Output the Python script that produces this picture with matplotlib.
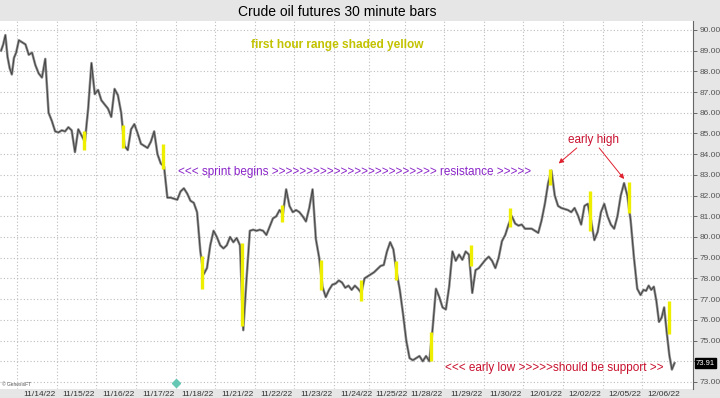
import numpy as np
import matplotlib.pyplot as plt

plt.rcParams['font.family'] = ['Liberation Sans', 'DejaVu Sans']

# trading days shown (first one is the tail of 11/11)
DAY_LABELS = ['11/11/22', '11/14/22', '11/15/22', '11/16/22', '11/17/22', '11/18/22',
              '11/21/22', '11/22/22', '11/23/22', '11/24/22', '11/25/22', '11/28/22',
              '11/29/22', '11/30/22', '12/01/22', '12/02/22', '12/05/22', '12/06/22']
# 30 minute bars per session, and bars actually traded on screen
SESSION_BARS = [20, 46, 46, 46, 46, 46, 46, 46, 46, 41, 41, 46, 46, 46, 46, 46, 46, 46]
TRADED_BARS = [20, 46, 46, 46, 46, 46, 46, 46, 46, 41, 41, 46, 46, 46, 46, 46, 46, 39]
FIRST_HOUR_BAR = 30  # 9:00 ET, counted from the 18:00 open

# price path, sampled evenly through each session
P_1111 = [89.0, 89.3, 89.75, 88.7, 88.15, 87.85, 88.65, 88.9]
P_1114 = [89.5, 89.4, 89.3, 88.8, 88.9, 88.3, 87.9, 87.7, 88.6, 86.0, 85.6, 85.1]
P_1115 = [85.05, 85.15, 85.1, 85.3, 85.15, 84.1, 85.2, 84.9, 84.6, 86.2, 88.4, 86.9]
P_1116 = [87.1, 86.6, 86.4, 86.2, 85.8, 87.15, 86.85, 86.0, 84.4, 84.2, 85.2, 85.45]
P_1117 = [85.0, 84.5, 84.4, 84.3, 84.6, 85.1, 84.0, 83.55, 83.4, 81.9, 81.9, 81.85]
P_1118 = [81.8, 82.2, 82.35, 82.1, 81.75, 81.65, 81.2, 79.3, 78.2, 78.5, 79.6, 80.3]
P_1121 = [80.0, 79.6, 79.45, 79.6, 80.0, 79.75, 79.95, 79.6, 75.5, 78.0, 80.3, 80.35]
P_1122 = [80.3, 80.35, 80.3, 80.1, 80.5, 80.9, 81.0, 81.3, 81.1, 82.3, 81.5, 81.2]
P_1123 = [81.3, 81.2, 81.0, 80.75, 81.4, 82.3, 79.9, 79.0, 77.6, 77.1, 77.45, 77.7]
P_1124 = [77.75, 77.9, 77.8, 77.55, 77.65, 77.45, 77.65, 77.5, 77.3, 78.0, 78.1]
P_1125 = [78.2, 78.3, 78.45, 78.6, 78.65, 79.3, 79.75, 79.4, 78.3, 77.45, 76.3]
P_1128 = [75.0, 74.15, 74.05, 74.15, 74.25, 74.0, 74.25, 74.0, 75.6, 77.5, 77.1, 76.6]
P_1129 = [76.5, 77.6, 79.3, 78.85, 79.15, 78.9, 79.3, 79.15, 77.3, 78.4, 78.5, 78.7]
P_1130 = [78.9, 79.05, 78.85, 78.5, 79.0, 79.8, 80.1, 80.6, 81.0, 80.65, 80.55, 80.6]
P_1201 = [80.4, 80.4, 80.4, 80.3, 80.2, 80.8, 81.6, 82.6, 83.2, 82.0, 81.5, 81.4]
P_1202 = [81.35, 81.3, 81.2, 81.4, 81.05, 80.6, 81.5, 81.6, 80.8, 79.85, 80.25, 81.2]
P_1205 = [81.6, 81.0, 80.6, 80.4, 81.0, 82.0, 82.6, 82.0, 80.8, 79.0, 77.5, 77.2]
P_1206 = [77.45, 77.4, 77.65, 77.45, 77.6, 76.9, 75.9, 76.1, 76.6, 75.4, 74.3, 73.6, 73.91]
DAY_PRICES = [P_1111, P_1114, P_1115, P_1116, P_1117, P_1118, P_1121, P_1122, P_1123,
              P_1124, P_1125, P_1128, P_1129, P_1130, P_1201, P_1202, P_1205, P_1206]

# first hour (9:00-10:00) range per day
FH_HIGH = [np.nan, np.nan, 85.1, 85.4, 84.5, 79.1, 79.7, 81.55, 78.9, 77.9, 78.85,
           75.4, 79.6, 81.4, 83.3, 82.2, 82.65, 76.9]
FH_LOW = [np.nan, np.nan, 84.2, 84.3, 83.3, 77.5, 75.7, 80.7, 77.45, 76.9, 77.9,
          74.0, 78.6, 80.5, 82.5, 80.3, 81.15, 75.3]

LAST_PRICE = 73.91
Y_TICKS = np.arange(73, 91)

day_start = np.concatenate([[0], np.cumsum(SESSION_BARS)[:-1]])
xs, ys = [], []
for start, traded, prices in zip(day_start, TRADED_BARS, DAY_PRICES):
    n = len(prices)
    xs.extend(start + (np.arange(n) + 0.5) * traded / n)
    ys.extend(prices)
fh_x = day_start + FIRST_HOUR_BAR + 1

fig = plt.figure(figsize=(7.2, 3.98), dpi=100, facecolor='#e6e6e6')
ax = fig.add_axes([0.0, 9 / 398, 693 / 720, 368 / 398])
ax.set_facecolor('white')

ax.plot(xs, ys, color='#8c8c8c', lw=1.8, zorder=2)
ax.plot(xs, ys, color='#3c3c3c', lw=0.6, zorder=3)
ax.vlines(fh_x, FH_LOW, FH_HIGH, color='#eeee00', lw=2.4, zorder=4)

y0, y1 = 72.66, 90.43
ax.set_xlim(0, 805)
ax.set_ylim(y0, y1)

# grid: day boundaries and whole dollars
ax.set_xticks(day_start[1:])
ax.set_xticklabels([])
ax.set_xticks(day_start[1:] + 25.5, minor=True)
ax.set_xticklabels(DAY_LABELS[1:], minor=True, fontsize=6, color='#333333')
ax.tick_params(axis='x', which='both', length=0, pad=1.5)
ax.set_yticks(Y_TICKS)
ax.yaxis.tick_right()
# the last-price tag sits over the 74.00 label
ax.set_yticklabels(['' if abs(v - LAST_PRICE) < 0.5 else '%.2f' % v for v in Y_TICKS],
                   fontsize=6, color='#333333')
ax.tick_params(axis='y', length=3, width=0.6, pad=2, colors='#555555')
ax.grid(True, which='major', color='#bdbdbd', ls=(0, (1, 2)), lw=0.8)
for side in ['top', 'left', 'bottom']:
    ax.spines[side].set_visible(False)
ax.spines['right'].set_color('#666666')
ax.spines['right'].set_linewidth(0.8)

# last price tag
ax.text(1.004, (LAST_PRICE - y0) / (y1 - y0), '%.2f' % LAST_PRICE,
        transform=ax.transAxes, fontsize=5.5, color='white', va='center', ha='left',
        bbox=dict(boxstyle='square,pad=0.15', facecolor='black', edgecolor='black'))

fig.text(337 / 720, 1 - 12 / 398, 'Crude oil futures 30 minute bars', ha='center',
         va='center', fontsize=10, color='black')
fig.text(337 / 720, 1 - 45 / 398, 'first hour range shaded yellow', ha='center',
         va='center', fontsize=8.6, fontweight='bold', color='#c2c200')
fig.text(355 / 720, 1 - 172 / 398,
         '<<< sprint begins ' + '>' * 24 + ' resistance >>>>>', ha='center',
         va='center', fontsize=8.5, color='#8a24c8')
fig.text(554 / 720, 1 - 368 / 398, '<<< early low >>>>>should be support >>',
         ha='center', va='center', fontsize=8.5, color='#c8102e')

ax.text(689, 84.69, 'early high', ha='center', va='center', fontsize=8.5,
        color='#c8102e')
arrow = dict(arrowstyle='-|>', color='#e0202e', lw=0.7, mutation_scale=7,
             shrinkA=0, shrinkB=0)
ax.annotate('', xy=(fh_x[14] + 10, 83.55), xytext=(670, 84.3), arrowprops=arrow)
ax.annotate('', xy=(fh_x[16] - 6, 82.8), xytext=(696, 84.3), arrowprops=arrow)

fig.text(2 / 720, 1 - 384 / 398, '\u00a9 GenesisFT', fontsize=3.5, color='#555555',
         va='center')
ax.plot([day_start[5]], [72.95], marker='D', ms=4, color='#66c7b5', clip_on=False)

fig.savefig('out.png', dpi=100, facecolor=fig.get_facecolor())
